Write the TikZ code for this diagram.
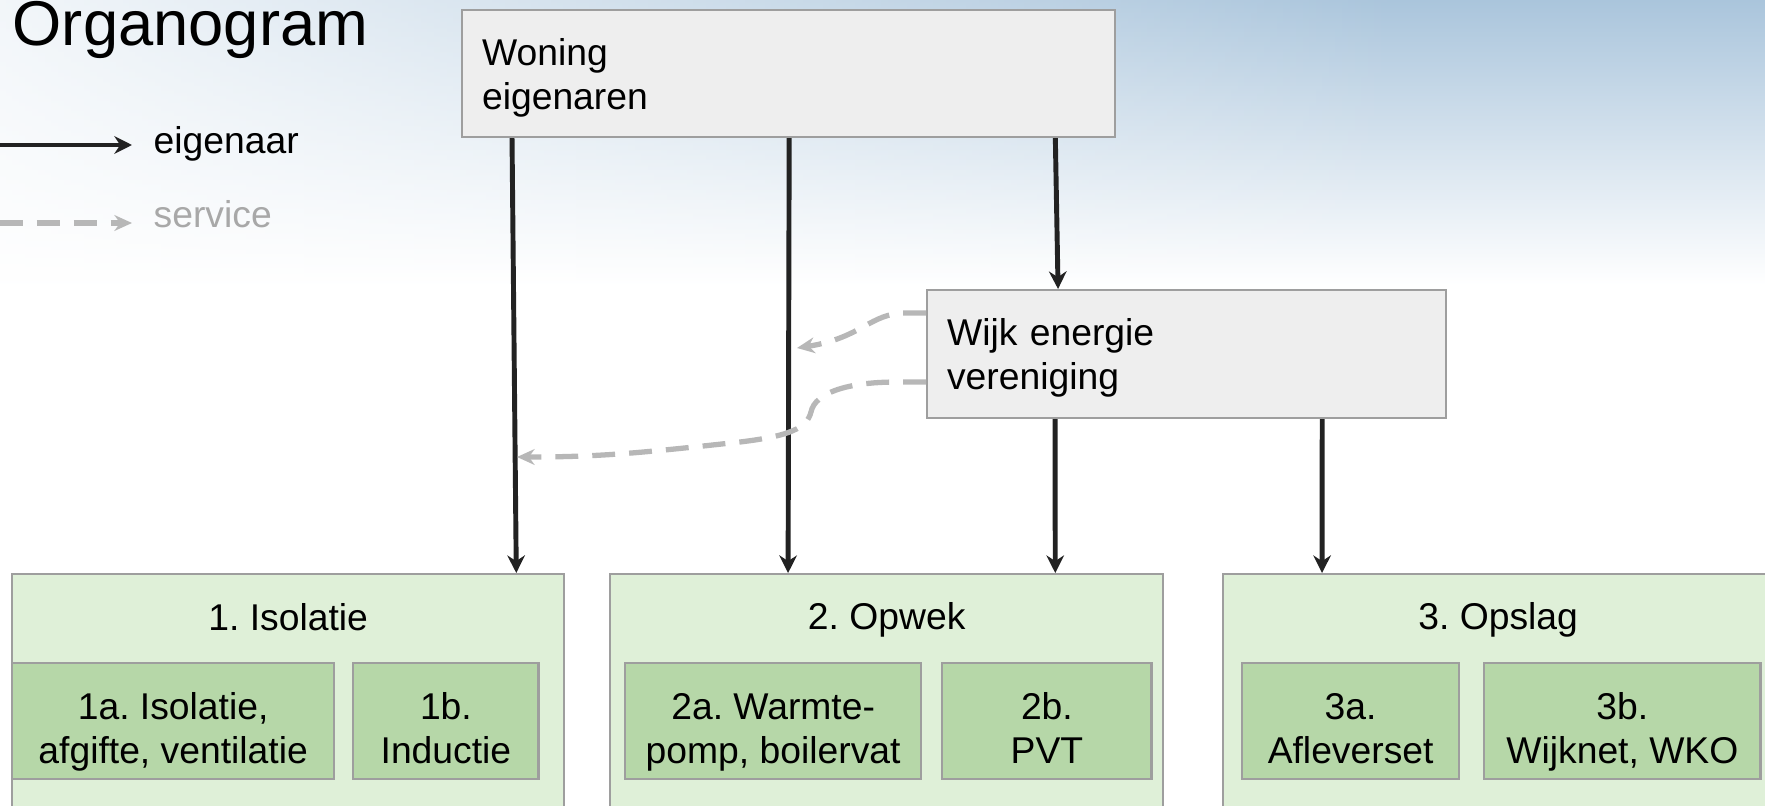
\documentclass[tikz,border=0pt]{standalone}
\usepackage{fontspec}
\setmainfont{Liberation Sans}
\usetikzlibrary{arrows.meta,fadings,positioning}
\frenchspacing

\definecolor{boxgrey}{HTML}{EEEEEE}
\definecolor{edgegrey}{HTML}{9E9E9E}
\definecolor{grpgreen}{HTML}{DFF0D8}
\definecolor{subgreen}{HTML}{B6D7A8}
\definecolor{arrowblack}{HTML}{222222}
\definecolor{svcgrey}{HTML}{B7B7B7}
\definecolor{legendgrey}{HTML}{A8A8A8}
\definecolor{skyblue}{HTML}{AAC5DC}

\tikzfading[name=fadeleft, left color=transparent!15, right color=transparent!100]

% two text lines, first one pushed down a bit
\newcommand{\twoline}[3]{\rule{0pt}{#1}#2\\#3\rule[-3pt]{0pt}{3pt}}

\begin{document}
\begin{tikzpicture}[x=0.01cm, y=-0.01cm,
  font=\fontsize{10.6}{12.5}\selectfont,
  greybox/.style={draw=edgegrey, line width=0.6pt, fill=boxgrey, anchor=north west,
    align=left, inner xsep=0.2cm, inner ysep=0pt, minimum height=1.27cm},
  groupbox/.style={draw=edgegrey, line width=0.6pt, fill=grpgreen, anchor=north west,
    inner sep=0pt, minimum height=2.6cm},
  subbox/.style={draw=edgegrey, line width=0.6pt, fill=subgreen, anchor=north west,
    align=center, inner sep=0pt, minimum height=1.16cm},
  own/.style={draw=arrowblack, line width=1.4pt, -{Stealth[length=5pt,width=5pt]}},
  svc/.style={draw=svcgrey, line width=1.5pt, dash pattern=on 6.5pt off 4pt,
    -{Stealth[length=5pt,width=4.5pt]}}]
  \useasboundingbox (0,0) rectangle (1765,806);

  % sky in the background
  \shade[top color=skyblue, bottom color=white] (0,0) rectangle (1765,285);
  \fill[white, path fading=fadeleft] (0,0) rectangle (1400,285);

  \node[anchor=base west, inner sep=0pt, font=\fontsize{18}{20}\selectfont] (title) at (12,45) {Organogram};

  % legend
  \coordinate (ownfrom) at (0,145);
  \coordinate (ownto) at (132,145);
  \coordinate (svcfrom) at (0,223);
  \coordinate (svcto) at (132,223);
  \node[anchor=base west, inner sep=0pt] (owner) at (153,153) {eigenaar};
  \node[anchor=base west, inner sep=0pt, text=legendgrey] (service) at (153,228) {service};
  \draw[own] (ownfrom) -- (ownto);
  \draw[svc] (svcfrom) -- (svcto);

  % groups
  \node[groupbox, minimum width=5.52cm] (isolatie) at (11,573) {};
  \node[groupbox, minimum width=5.53cm] (opwek) at (609,573) {};
  \node[groupbox, minimum width=5.50cm] (opslag) at (1222,573) {};
  \node[anchor=base] (isotitle) at ([yshift=-0.57cm]isolatie.north) {1. Isolatie};
  \node[anchor=base] (opwtitle) at ([yshift=-0.56cm]opwek.north) {2. Opwek};
  \node[anchor=base] (opstitle) at ([yshift=-0.56cm]opslag.north) {3. Opslag};

  \node[subbox, minimum width=3.22cm] (isoa) at (11,662) {\twoline{14.4pt}{1a. Isolatie,}{afgifte, ventilatie}};
  \node[subbox, minimum width=1.85cm, right=0.17cm of isoa] (isob) {\twoline{14.4pt}{1b.}{Inductie}};
  \node[subbox, minimum width=2.96cm] (opwa) at (624,662) {\twoline{14.4pt}{2a. Warmte-}{pomp, boilervat}};
  \node[subbox, minimum width=2.09cm, right=0.19cm of opwa] (opwb) {\twoline{14.4pt}{2b.}{PVT}};
  \node[subbox, minimum width=2.17cm] (opsa) at (1241,662) {\twoline{14.4pt}{3a.}{Afleverset}};
  \node[subbox, minimum width=2.76cm, right=0.23cm of opsa] (opsb) {\twoline{14.4pt}{3b.}{Wijknet, WKO}};

  % owners
  \node[greybox, text width=6.13cm] (woning) at (461,9) {\twoline{10.7pt}{Woning}{eigenaren}};
  \node[greybox, text width=4.79cm, minimum height=1.28cm] (wijk) at (926,289) {\twoline{10.7pt}{Wijk energie}{vereniging}};

  \draw[own] ([xshift=0.51cm]woning.south west) -- ([xshift=5.05cm]isolatie.north west);
  \draw[own] ([xshift=3.28cm]woning.south west) -- ([xshift=1.79cm]opwek.north west);
  \draw[own] ([xshift=5.94cm]woning.south west) -- ([xshift=1.32cm]wijk.north west);
  \draw[own] ([xshift=1.29cm]wijk.south west) -- ([xshift=4.46cm]opwek.north west);
  \draw[own] ([xshift=3.96cm]wijk.south west) -- ([xshift=1.00cm]opslag.north west);

  % service
  \coordinate (svcone) at (797,348);
  \coordinate (svctwo) at (517,457);
  \draw[svc] ([yshift=-0.24cm]wijk.north west) -- ++(-20,0)
    .. controls (870,313) and (862,338) .. (svcone);
  \draw[svc] ([yshift=-0.93cm]wijk.north west) -- ++(-30,0)
    .. controls (850,382) and (815,392) .. (811,412)
    .. controls (807,428) and (790,436) .. (740,442)
    .. controls (640,453) and (600,457) .. (svctwo);
\end{tikzpicture}
\end{document}
